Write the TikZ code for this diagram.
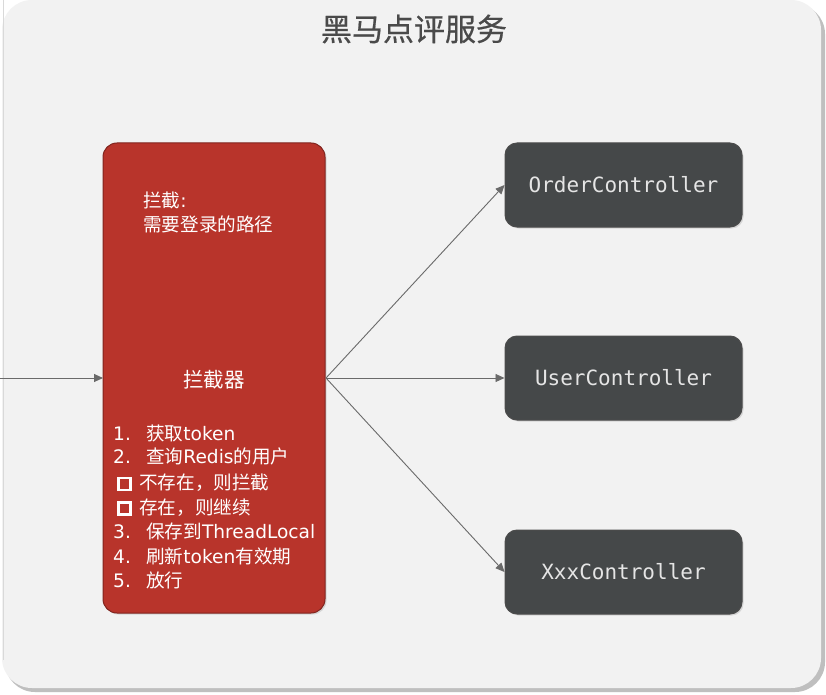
\documentclass[tikz,border=0pt]{standalone}
\usepackage{fontspec}
\setmainfont{Noto Sans CJK SC}
\newfontfamily\mono{DejaVu Sans Mono}
\newfontfamily\lat{DejaVu Sans}
\newfontfamily\titlefont[FakeBold=0.6]{Noto Sans CJK SC}
\usetikzlibrary{arrows.meta,shadows}
\definecolor{bgpanel}{HTML}{F2F2F2}
\definecolor{redbox}{HTML}{B8342B}
\definecolor{darkbox}{HTML}{454849}
\definecolor{titlegray}{HTML}{4A4A4A}
\definecolor{arrowgray}{HTML}{6A6A6A}
\newcommand{\numcol}[1]{\makebox[33pt][l]{\lat #1}}
\begin{document}
\begin{tikzpicture}[x=1pt,y=-1pt,
  redstyle/.style={draw=redbox!70!black,line width=1pt,fill=redbox,rounded corners=14pt,drop shadow={shadow xshift=1.5pt,shadow yshift=-1.5pt,opacity=0.25}},
  ctrl/.style={draw=black!70,line width=1pt,fill=darkbox,rounded corners=12pt,minimum width=237pt,minimum height=84pt,text=white!90!black,font=\mono\fontsize{21}{24}\selectfont,drop shadow={shadow xshift=1.5pt,shadow yshift=-1.5pt,opacity=0.25}},
  conn/.style={draw=arrowgray,line width=0.9pt,-{Triangle[length=9pt,width=8pt]}},
  wtxt/.style={text=white,anchor=west,inner sep=0pt,font=\fontsize{18.6}{20}\selectfont},
  sqbox/.style={draw=white,line width=2.2pt,minimum size=12pt,inner sep=0pt}
]
\useasboundingbox (0,0) rectangle (826,695);
\fill[white] (0,0) rectangle (826,695);
\fill[black!25,rounded corners=30pt] (5,4) rectangle (825,692);
\fill[bgpanel,rounded corners=30pt] (2,0) rectangle (821,688);
\draw[black!15,line width=0.6pt] (3,0) -- (3,660);
\node[text=titlegray,font=\titlefont\fontsize{31}{34}\selectfont] (title) at (414,29) {黑马点评服务};
% red box
\path[redstyle] (103,143) rectangle (325,613);
\coordinate (rl) at (103,378);
\coordinate (rr) at (326,378);
\coordinate (inL) at (0,378);
\node[wtxt] (t1) at (143,200) {拦截{\lat :}};
\node[wtxt] (t2) at (143,224) {需要登录的路径};
\node[text=white,font=\fontsize{20.5}{22}\selectfont] (t3) at (214,380) {拦截器};
\node[wtxt] (l1) at (113,433) {\numcol{1.}获取{\lat token}};
\node[wtxt] (l2) at (113,456) {\numcol{2.}查询{\lat Redis}的用户};
\node[sqbox] (sq1) at (124.5,484) {};
\node[wtxt] (l3) at (139,483) {不存在，则拦截};
\node[sqbox] (sq2) at (124.5,508.5) {};
\node[wtxt] (l4) at (139,508) {存在，则继续};
\node[wtxt] (l5) at (113,531) {\numcol{3.}保存到{\lat ThreadLocal}};
\node[wtxt] (l6) at (113,556) {\numcol{4.}刷新{\lat token}有效期};
\node[wtxt] (l7) at (113,580) {\numcol{5.}放行};
% controllers
\node[ctrl] (oc) at (623.5,185) {OrderController};
\node[ctrl] (uc) at (623.5,378) {UserController};
\node[ctrl] (xc) at (623.5,572) {XxxController};
% connectors
\draw[conn] (inL) -- (rl);
\draw[conn] (rr) -- (oc.west);
\draw[conn] (rr) -- (uc.west);
\draw[conn] (rr) -- (xc.west);
\end{tikzpicture}
\end{document}
